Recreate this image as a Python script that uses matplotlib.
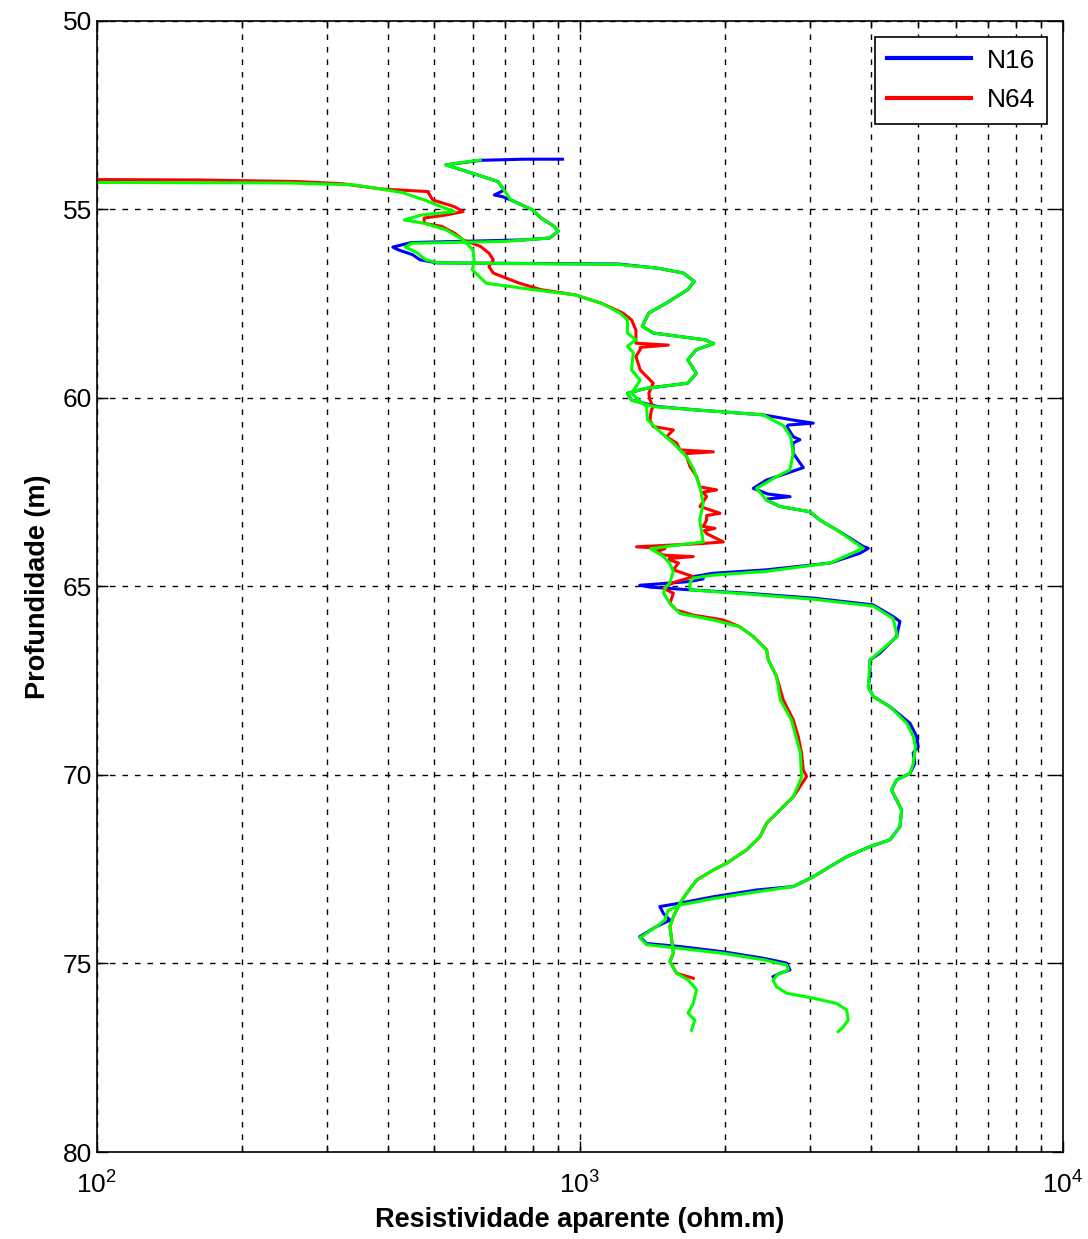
import numpy as np
import matplotlib.pyplot as plt
from matplotlib.ticker import FixedLocator, FixedFormatter, LogLocator, NullFormatter

plt.rcParams['font.family'] = ['Liberation Sans', 'DejaVu Sans']

# N16 (azul)
prof_n16 = [53.67, 53.67, 53.70, 53.82, 54.04, 54.26, 54.49, 54.62, 54.66, 54.75, 55.01, 55.23,
            55.45, 55.58, 55.76, 55.81, 55.88, 56.00, 56.07, 56.20, 56.34, 56.42, 56.45, 56.56,
            56.69, 56.91, 57.13, 57.49, 57.75, 58.10, 58.28, 58.46, 58.56, 58.72, 58.99, 59.35,
            59.61, 59.75, 59.88, 60.06, 60.23, 60.32, 60.45, 60.60, 60.67, 60.72, 60.76, 61.03,
            61.11, 61.20, 61.47, 61.85, 61.95, 62.09, 62.18, 62.40, 62.55, 62.62, 62.68, 62.71,
            62.88, 63.02, 63.24, 63.50, 63.94, 63.99, 64.12, 64.38, 64.56, 64.65, 64.74, 64.80,
            64.87, 64.97, 65.02, 65.09, 65.18, 65.31, 65.49, 65.80, 65.93, 66.33, 66.77, 66.95,
            67.30, 67.66, 67.92, 68.19, 68.63, 68.98, 69.25, 69.42, 69.69, 69.96, 70.13, 70.40,
            70.66, 70.93, 71.37, 71.72, 71.90, 72.17, 72.43, 72.70, 72.96, 73.05, 73.23, 73.40,
            73.49, 73.67, 73.85, 74.02, 74.29, 74.47, 74.55, 74.69, 74.86, 74.99, 75.17, 75.26,
            75.35]
res_n16 = [920, 765, 622, 528, 598, 676, 697, 665, 690, 719, 797, 831,
           884, 902, 866, 765, 448, 410, 420, 450, 467, 507, 1202, 1448,
           1638, 1724, 1672, 1508, 1389, 1346, 1418, 1816, 1892, 1742, 1672, 1742,
           1672, 1366, 1254, 1279, 1448, 1743, 2396, 2800, 3041, 2700, 2680, 2765,
           2854, 2760, 2765, 2900, 2750, 2553, 2433, 2285, 2450, 2723, 2450, 2433,
           2594, 2993, 3139, 3400, 3860, 3954, 3799, 3293, 2433, 1889, 1716, 1800,
           1690, 1330, 1400, 1690, 2214, 3041, 4047, 4452, 4597, 4524, 4178, 3985,
           3985, 3954, 4047, 4383, 4823, 4978, 5016, 4896, 4937, 4823, 4524, 4417,
           4524, 4635, 4597, 4383, 3985, 3565, 3293, 3041, 2765, 2322, 1889, 1611,
           1464, 1488, 1536, 1441, 1330, 1374, 1611, 1981, 2396, 2680, 2722, 2594,
           2512]

# N64 (vermelho)
prof_n64 = [54.20, 54.22, 54.24, 54.26, 54.32, 54.46, 54.48, 54.53, 54.57, 54.75, 54.93, 55.06,
            55.15, 55.23, 55.37, 55.45, 55.63, 55.81, 55.98, 56.16, 56.34, 56.52, 56.69, 56.87,
            56.96, 57.13, 57.27, 57.49, 57.75, 57.93, 58.20, 58.55, 58.60, 58.66, 58.72, 58.90,
            59.26, 59.61, 59.88, 60.05, 60.23, 60.32, 60.58, 60.76, 60.85, 61.03, 61.20, 61.38,
            61.43, 61.48, 61.56, 61.82, 62.09, 62.36, 62.44, 62.50, 62.62, 62.88, 63.06, 63.12,
            63.24, 63.41, 63.46, 63.52, 63.60, 63.82, 63.86, 63.95, 64.00, 64.08, 64.17, 64.21,
            64.26, 64.30, 64.38, 64.56, 64.74, 64.90, 65.05, 65.18, 65.45, 65.63, 65.76, 65.89,
            66.07, 66.33, 66.68, 66.95, 67.39, 68.01, 68.54, 68.98, 69.42, 69.87, 70.04, 70.58,
            70.93, 71.28, 71.64, 71.99, 72.34, 72.52, 72.79, 73.14, 73.40, 73.76, 74.02, 74.38,
            74.73, 74.95, 75.26, 75.39]
res_n64 = [60, 162, 200, 257, 322, 388, 413, 486, 486, 496, 550, 573,
           528, 476, 476, 517, 550, 573, 622, 648, 662, 648, 662, 719,
           750, 831, 979, 1108, 1227, 1279, 1306, 1306, 1524, 1333, 1333, 1306,
           1333, 1418, 1389, 1396, 1418, 1406, 1396, 1418, 1561, 1511, 1586, 1611,
           1889, 1650, 1663, 1690, 1744, 1772, 1919, 1800, 1829, 1772, 1950, 1830,
           1829, 1800, 1904, 1810, 1829, 1981, 1800, 1310, 1500, 1441, 1488, 1716,
           1530, 1536, 1600, 1560, 1716, 1560, 1488, 1561, 1536, 1586, 1716, 1981,
           2143, 2285, 2435, 2455, 2553, 2636, 2765, 2831, 2876, 2900, 2947, 2765,
           2594, 2435, 2359, 2213, 2012, 1889, 1744, 1663, 1611, 1561, 1536, 1549,
           1561, 1536, 1586, 1716]

# curvas verdes (filtradas)
prof_v16 = [53.69, 53.82, 54.04, 54.26, 54.49, 54.75, 55.01, 55.23, 55.45, 55.58, 55.76, 55.85,
            55.90, 56.00, 56.15, 56.34, 56.42, 56.46, 56.56, 56.69, 56.91, 57.13, 57.49, 57.75,
            58.10, 58.28, 58.46, 58.56, 58.72, 58.99, 59.35, 59.61, 59.75, 59.88, 60.06, 60.23,
            60.32, 60.45, 60.74, 61.03, 61.47, 61.91, 62.09, 62.40, 62.71, 62.88, 63.02, 63.24,
            63.50, 63.99, 64.38, 64.60, 64.70, 64.78, 64.90, 65.09, 65.20, 65.34, 65.52, 65.85,
            66.33, 66.95, 67.66, 67.92, 68.19, 68.63, 68.98, 69.25, 69.69, 69.96, 70.13, 70.40,
            70.66, 70.93, 71.37, 71.72, 71.90, 72.17, 72.43, 72.70, 72.96, 73.10, 73.28, 73.45,
            73.60, 73.85, 74.02, 74.32, 74.50, 74.60, 74.73, 74.90, 75.04, 75.17, 75.30, 75.45,
            75.62, 75.79, 75.92, 76.06, 76.23, 76.50, 76.68, 76.81]
res_v16 = [622, 528, 598, 676, 697, 719, 797, 831, 884, 902, 866, 700,
           448, 435, 460, 480, 510, 1202, 1448, 1638, 1724, 1672, 1508, 1389,
           1346, 1418, 1816, 1892, 1742, 1672, 1742, 1672, 1366, 1254, 1279, 1420,
           1743, 2396, 2640, 2730, 2765, 2720, 2553, 2320, 2433, 2594, 2993, 3139,
           3400, 3860, 3293, 2433, 1889, 1716, 1690, 1690, 2214, 3041, 4047, 4452,
           4540, 3985, 3954, 4047, 4383, 4750, 4900, 4950, 4900, 4823, 4524, 4417,
           4524, 4635, 4597, 4383, 3985, 3565, 3293, 3041, 2765, 2322, 1889, 1611,
           1520, 1500, 1441, 1330, 1374, 1611, 1981, 2396, 2680, 2700, 2560, 2512,
           2553, 2680, 3041, 3400, 3565, 3594, 3508, 3425]

prof_v64 = [54.28, 54.30, 54.35, 54.46, 54.56, 54.75, 54.93, 55.06, 55.15, 55.28, 55.37, 55.54,
            55.81, 56.07, 56.40, 56.60, 56.96, 57.13, 57.27, 57.49, 57.75, 57.93, 58.28, 58.46,
            58.63, 58.80, 59.26, 59.53, 59.88, 60.15, 60.23, 60.58, 60.85, 61.20, 61.56, 61.90,
            62.36, 62.79, 63.24, 63.82, 63.90, 64.00, 64.20, 64.40, 64.60, 64.90, 65.05, 65.18,
            65.45, 65.72, 65.89, 66.07, 66.33, 66.68, 66.95, 67.39, 68.01, 68.54, 68.98, 69.42,
            69.87, 70.04, 70.58, 70.93, 71.28, 71.64, 71.99, 72.34, 72.52, 72.79, 73.14, 73.40,
            73.76, 74.02, 74.38, 74.73, 74.95, 75.26, 75.45, 75.70, 76.06, 76.32, 76.50, 76.77]
res_v64 = [60, 250, 340, 388, 430, 476, 517, 550, 470, 433, 476, 528,
           573, 600, 605, 598, 640, 800, 979, 1108, 1210, 1254, 1254, 1306,
           1254, 1290, 1279, 1333, 1279, 1350, 1374, 1380, 1450, 1560, 1663, 1720,
           1772, 1800, 1770, 1800, 1600, 1400, 1488, 1536, 1560, 1536, 1500, 1490,
           1536, 1611, 1889, 2143, 2285, 2433, 2455, 2553, 2600, 2740, 2800, 2860,
           2870, 2880, 2765, 2594, 2435, 2359, 2213, 2012, 1889, 1744, 1663, 1611,
           1561, 1536, 1549, 1561, 1536, 1586, 1680, 1744, 1716, 1674, 1730, 1702]

fig = plt.figure(figsize=(10.88, 12.39), dpi=100)
ax = fig.add_axes([0.089, 0.0702, 0.888, 0.913])

ax.plot(res_n16, prof_n16, color='#0000ff', lw=2.2, label='N16')
ax.plot(res_n64, prof_n64, color='#ff0000', lw=2.2, label='N64')
ax.plot(res_v16, prof_v16, color='#00ff00', lw=2.2)
ax.plot(res_v64, prof_v64, color='#00ff00', lw=2.2)

ax.set_xscale('log')
ax.set_xlim(100, 10000)
ax.set_ylim(80, 50)

ax.xaxis.set_major_locator(FixedLocator([100, 1000, 10000]))
ax.xaxis.set_major_formatter(FixedFormatter([r'$\mathregular{10^{2}}$', r'$\mathregular{10^{3}}$',
                                             r'$\mathregular{10^{4}}$']))
ax.xaxis.set_minor_locator(LogLocator(base=10, subs=np.arange(2, 10)))
ax.xaxis.set_minor_formatter(NullFormatter())
ax.set_yticks(np.arange(50, 81, 5))

ax.tick_params(which='both', direction='in', top=True, right=True, labelsize=19, width=1)
ax.tick_params(which='major', length=8)
ax.tick_params(which='minor', length=5)
ax.tick_params(axis='x', pad=14)

ax.grid(True, which='both', axis='x', color='black', linestyle=(0, (4, 5)), lw=1)
ax.grid(True, which='major', axis='y', color='black', linestyle=(0, (4, 5)), lw=1)
for s in ax.spines.values():
    s.set_linewidth(1.2)

ax.set_xlabel('Resistividade aparente (ohm.m)', fontsize=19.5, fontweight='bold', labelpad=6)
ax.set_ylabel('Profundidade (m)', fontsize=19.5, fontweight='bold', labelpad=8)

leg = ax.legend(loc='upper right', fontsize=19, handlelength=3.2, labelspacing=0.6,
                handletextpad=0.6, borderpad=0.45,
                fancybox=False, framealpha=1, edgecolor='black', borderaxespad=0.6)
leg.get_frame().set_linewidth(1.2)
for h in leg.get_lines():
    h.set_linewidth(3)

fig.savefig('out.png', dpi=100)
